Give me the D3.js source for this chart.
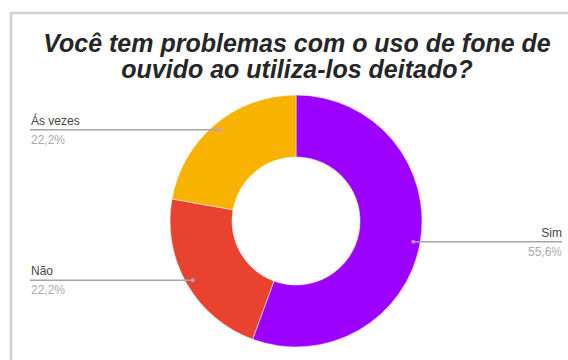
<!DOCTYPE html>
<html>
<head>
<meta charset="utf-8">
<script src="https://cdn.jsdelivr.net/npm/d3@7"></script>
<style>
  html, body { margin: 0; padding: 0; background: #fff; }
  svg { display: block; }
</style>
</head>
<body>
<svg id="chart" width="568" height="360"></svg>
<script>
// Survey answers and their shares (%)
const categories = ["Sim", "Não", "Ás vezes"];
const shares = [55.6, 22.2, 22.2];
const shareLabels = ["55,6%", "22,2%", "22,2%"];
const colors = ["#9c00ff", "#e9432f", "#f8b200"];
const titleLines = ["Você tem problemas com o uso de fone de", "ouvido ao utiliza-los deitado?"];

const svg = d3.select("#chart");
const W = 568, H = 360;
const cx = 296, cy = 221;
const outerR = 126, innerR = 64, anchorR = 119;

// panel border (top and left edges)
svg.append("path")
  .attr("d", `M11,${H} L11,13 L${W},13`)
  .attr("fill", "none")
  .attr("stroke", "#cfcfcf")
  .attr("stroke-width", 2.5);

// title
svg.append("g").selectAll("text")
  .data(titleLines)
  .join("text")
  .attr("x", cx + 1)
  .attr("y", (d, i) => 52 + i * 26)
  .attr("text-anchor", "middle")
  .attr("font-family", "Liberation Sans, Arial, sans-serif")
  .attr("font-style", "italic")
  .attr("font-weight", "bold")
  .attr("font-size", 25)
  .attr("fill", "#262626")
  .text(d => d);

const data = categories.map((c, i) => ({ name: c, value: shares[i], label: shareLabels[i], color: colors[i] }));

const pie = d3.pie().value(d => d.value).sort(null);
const arc = d3.arc().innerRadius(innerR).outerRadius(outerR);
const anchorArc = d3.arc().innerRadius(anchorR).outerRadius(anchorR);

const arcs = pie(data);
const g = svg.append("g").attr("transform", `translate(${cx},${cy})`);

g.selectAll("path.slice")
  .data(arcs)
  .join("path")
  .attr("class", "slice")
  .attr("d", arc)
  .attr("fill", d => d.data.color)
  .attr("stroke", "#fff")
  .attr("stroke-width", 0.5);

// leader lines and labels
const leftX = 30, rightX = 562;
arcs.forEach(a => {
  const [px, py] = anchorArc.centroid(a);
  const ax = cx + px, ay = cy + py;
  const right = ax > cx;
  const endX = right ? rightX : leftX;

  svg.append("line")
    .attr("x1", ax).attr("y1", ay)
    .attr("x2", endX).attr("y2", ay)
    .attr("stroke", "#a6a6a6")
    .attr("stroke-width", 1.5);

  svg.append("circle")
    .attr("cx", ax).attr("cy", ay).attr("r", 2)
    .attr("fill", "#c9a0d8")
    .attr("opacity", 0.8);

  const anchor = right ? "end" : "start";
  svg.append("text")
    .attr("x", endX + (right ? 0 : 1))
    .attr("y", ay - 5)
    .attr("text-anchor", anchor)
    .attr("font-family", "Liberation Sans, Arial, sans-serif")
    .attr("font-size", 12)
    .attr("fill", "#444")
    .text(a.data.name);

  svg.append("text")
    .attr("x", endX + (right ? 0 : 1))
    .attr("y", ay + 14)
    .attr("text-anchor", anchor)
    .attr("font-family", "Liberation Sans, Arial, sans-serif")
    .attr("font-size", 12)
    .attr("fill", "#aaa")
    .text(a.data.label);
});
</script>
</body>
</html>
